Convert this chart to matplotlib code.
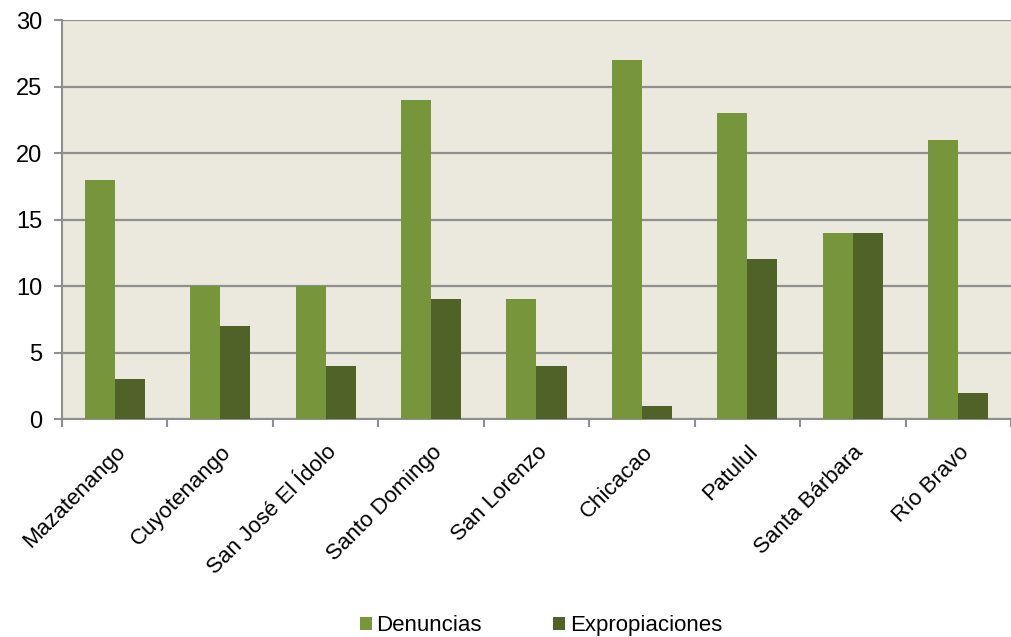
import numpy as np
import matplotlib.pyplot as plt

municipios = ["Mazatenango", "Cuyotenango", "San José El Ídolo", "Santo Domingo",
              "San Lorenzo", "Chicacao", "Patulul", "Santa Bárbara", "Río Bravo"]
denuncias = [18, 10, 10, 24, 9, 27, 23, 14, 21]
expropiaciones = [3, 7, 4, 9, 4, 1, 12, 14, 2]

plt.rcParams['font.family'] = ['Liberation Sans', 'DejaVu Sans']

fig = plt.figure(figsize=(10.11, 6.37), dpi=100)
ax = fig.add_axes([0.0613, 0.342, 0.9387, 0.6266])
ax.set_facecolor("#ebe9dd")

x = np.arange(len(municipios))
w = 0.285
ax.bar(x - w / 2, denuncias, w, color="#77963b", label="Denuncias", zorder=3)
ax.bar(x + w / 2, expropiaciones, w, color="#4f6228", label="Expropiaciones", zorder=3)

ax.set_xlim(-0.5, len(municipios) - 0.5)
ax.set_ylim(0, 30)
ax.set_yticks(range(0, 31, 5))
ax.grid(axis="y", color="#8f8f8f", linewidth=1.6, zorder=1)
ax.set_axisbelow(True)

ax.set_xticks(x)
ax.set_xticklabels(municipios, rotation=45, ha="right", rotation_mode="anchor", fontsize=16)
ax.tick_params(axis="x", length=0, pad=16)
ax.set_xticks(np.arange(-0.5, len(municipios), 1), minor=True)
ax.tick_params(axis="x", which="minor", length=6, width=1.5, color="#8f8f8f")
ax.tick_params(axis="y", labelsize=17, length=6, width=1.5, color="#8f8f8f", pad=8)

for s in ["top", "right"]:
    ax.spines[s].set_visible(False)
for s in ["left", "bottom"]:
    ax.spines[s].set_color("#8f8f8f")
    ax.spines[s].set_linewidth(1.5)

fig.legend(loc="lower center", bbox_to_anchor=(0.535, -0.03), ncol=2, frameon=False,
           fontsize=16, handlelength=0.55, handleheight=0.55, handletextpad=0.2,
           columnspacing=3.2)

fig.savefig("out.png", dpi=100)
